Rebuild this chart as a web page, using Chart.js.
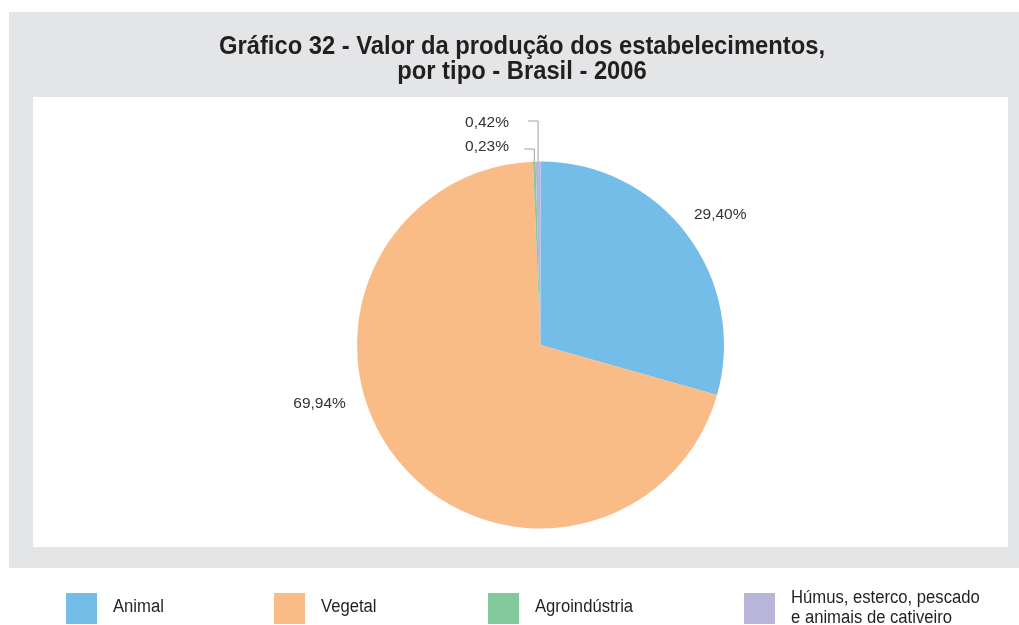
<!DOCTYPE html>
<html>
<head>
<meta charset="utf-8">
<script src="https://cdn.jsdelivr.net/npm/chart.js@4/dist/chart.umd.min.js"></script>
<style>
  html, body { margin: 0; padding: 0; background: #ffffff; }
  canvas { display: block; }
</style>
</head>
<body>
<canvas id="chart" width="1019" height="625"></canvas>
<script>
// Valor da produção dos estabelecimentos, por tipo - Brasil - 2006 (%)
const categories = [
  "Animal",
  "Vegetal",
  "Agroindústria",
  ["Húmus, esterco, pescado", "e animais de cativeiro"]
];
const shares = [29.40, 69.94, 0.23, 0.42];
const sliceColors = ["#74BDE8", "#F9BC87", "#82CA9C", "#B9B5D9"];
const titleLines = [
  "Gráfico 32 - Valor da produção dos estabelecimentos,",
  "por tipo - Brasil - 2006"
];

const FONT = '"Liberation Sans", Arial, Helvetica, sans-serif';

// Label placement: large slices get a nudge from the mid-angle anchor,
// thin slices get a leader line that rises to the given height and a
// right-aligned label.
const labelStyle = [
  { dx: 4, dy: 2 },
  { dx: -48, dy: -78 },
  { leaderY: 149, textY: 147, textRight: 509 },
  { leaderY: 121, textY: 123, textRight: 509 }
];

function fmt(v) {
  return v.toFixed(2).replace('.', ',') + '%';
}

// Text squeezed horizontally to a given width (condensed look)
function fitText(ctx, text, x, y, width, align) {
  const w = ctx.measureText(text).width;
  const sx = width / w;
  ctx.save();
  let left = x;
  if (align === 'center') left = x - width / 2;
  else if (align === 'right') left = x - width;
  ctx.translate(left, y);
  ctx.scale(sx, 1);
  ctx.textAlign = 'left';
  ctx.fillText(text, 0, 0);
  ctx.restore();
}

const framePlugin = {
  id: 'frame',
  beforeDraw(chart) {
    const ctx = chart.ctx;
    ctx.save();
    ctx.fillStyle = '#ffffff';
    ctx.fillRect(0, 0, chart.width, chart.height);
    // grey panel and white plotting field
    ctx.fillStyle = '#E4E5E7';
    ctx.fillRect(9, 12, 1010, 556);
    ctx.fillStyle = '#ffffff';
    ctx.fillRect(33, 97, 975, 450);

    // title
    ctx.fillStyle = '#231F20';
    ctx.font = 'bold 25px ' + FONT;
    ctx.textBaseline = 'alphabetic';
    const w1 = ctx.measureText(titleLines[0]).width;
    const sx = 606 / w1;
    fitText(ctx, titleLines[0], 522, 54, 606, 'center');
    fitText(ctx, titleLines[1], 522, 79, ctx.measureText(titleLines[1]).width * sx, 'center');

    // legend
    const itemX = [66, 274, 488, 744];
    ctx.font = '18px ' + FONT;
    ctx.textBaseline = 'middle';
    categories.forEach((cat, i) => {
      ctx.fillStyle = sliceColors[i];
      ctx.fillRect(itemX[i], 593, 31, 31);
      ctx.fillStyle = '#231F20';
      const lines = Array.isArray(cat) ? cat : [cat];
      const tx = itemX[i] + 47;
      if (lines.length === 1) {
        const w = ctx.measureText(lines[0]).width * 0.925;
        fitText(ctx, lines[0], tx, 607, w, 'left');
      } else {
        lines.forEach((ln, k) => {
          const w = ctx.measureText(ln).width * 0.925;
          fitText(ctx, ln, tx, 598 + k * 20, w, 'left');
        });
      }
    });
    ctx.restore();
  },
  afterDatasetsDraw(chart) {
    const ctx = chart.ctx;
    const meta = chart.getDatasetMeta(0);
    ctx.save();
    ctx.font = '15.5px ' + FONT;
    ctx.fillStyle = '#333333';
    ctx.textBaseline = 'middle';
    meta.data.forEach((arc, i) => {
      const p = arc.getProps(['x', 'y', 'startAngle', 'endAngle', 'outerRadius']);
      const mid = (p.startAngle + p.endAngle) / 2;
      const text = fmt(shares[i]);
      const st = labelStyle[i];
      if (st.leaderY !== undefined) {
        const ex = p.x + Math.cos(mid) * p.outerRadius;
        const ey = p.y + Math.sin(mid) * p.outerRadius;
        const hx = ex - 10;
        ctx.strokeStyle = '#A0A0A0';
        ctx.lineWidth = 1;
        ctx.beginPath();
        ctx.moveTo(ex, ey);
        ctx.lineTo(ex, st.leaderY);
        ctx.lineTo(hx, st.leaderY);
        ctx.stroke();
        ctx.textAlign = 'right';
        ctx.fillText(text, st.textRight, st.textY);
      } else {
        const r = p.outerRadius * 1.2;
        const lx = p.x + Math.cos(mid) * r + st.dx;
        const ly = p.y + Math.sin(mid) * r + st.dy;
        ctx.textAlign = 'center';
        ctx.fillText(text, lx, ly);
      }
    });
    ctx.restore();
  }
};

new Chart(document.getElementById('chart'), {
  type: 'pie',
  data: {
    labels: categories,
    datasets: [{
      data: shares,
      backgroundColor: sliceColors,
      borderWidth: 0
    }]
  },
  options: {
    responsive: false,
    animation: false,
    layout: { padding: { left: 357, right: 295, top: 161.5, bottom: 96.5 } },
    plugins: {
      legend: { display: false },
      title: { display: false },
      tooltip: { enabled: false }
    }
  },
  plugins: [framePlugin]
});
</script>
</body>
</html>
